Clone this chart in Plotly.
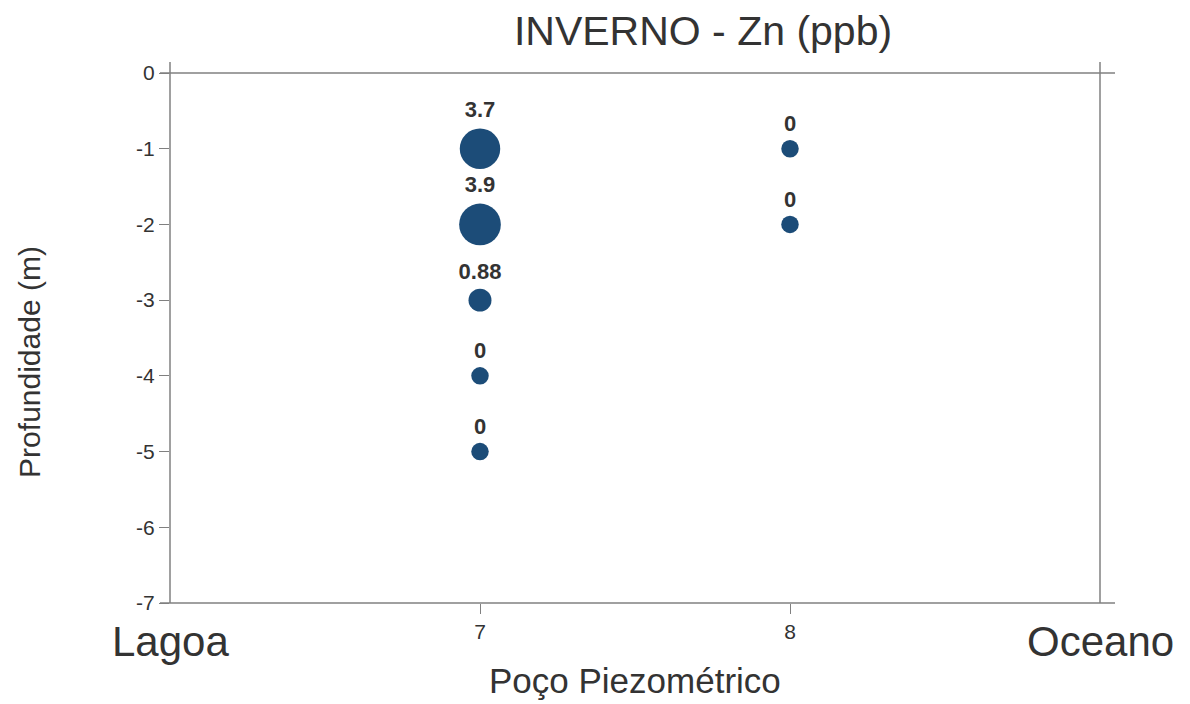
import plotly.graph_objects as go

# Data
wells = [7, 7, 7, 7, 7, 8, 8]
depths = [-1, -2, -3, -4, -5, -1, -2]
zn_values = [3.7, 3.9, 0.88, 0, 0, 0, 0]
zn_labels = ["3.7", "3.9", "0.88", "0", "0", "0", "0"]

x_ticks = [7, 8]
x_end_positions = [6, 9]
x_end_labels = ["Lagoa", "Oceano"]
y_ticks = [0, -1, -2, -3, -4, -5, -6, -7]

title_text = "INVERNO - Zn (ppb)"
x_title = "Poço Piezométrico"
y_title = "Profundidade (m)"

FONT = "Liberation Sans, Arial, Helvetica, sans-serif"
MARK = "#1c4c78"
TXT = "#333333"
LINE = "#808080"

sizes = [17.5 + 6.2 * v for v in zn_values]

fig = go.Figure()
fig.add_trace(go.Scatter(
    x=wells, y=depths, mode="markers+text",
    marker=dict(size=sizes, color=MARK, opacity=1, line=dict(width=0)),
    text=[f"<b>{t}</b>" for t in zn_labels],
    textposition="top center",
    textfont=dict(family=FONT, size=22, color=TXT),
    showlegend=False, cliponaxis=False,
))

for xv, lab in zip(x_end_positions, x_end_labels):
    fig.add_annotation(x=xv, xref="x", y=-0.072, yref="paper",
                       text=lab, showarrow=False, xanchor="center", yanchor="middle",
                       font=dict(family=FONT, size=42, color=TXT))

fig.add_annotation(x=0.5, xref="paper", y=-0.146, yref="paper",
                   text=x_title, showarrow=False, xanchor="center", yanchor="middle",
                   font=dict(family=FONT, size=35, color=TXT))
fig.add_annotation(x=-0.1505, xref="paper", y=0.455, yref="paper",
                   text=y_title, showarrow=False, textangle=-90,
                   xanchor="center", yanchor="middle",
                   font=dict(family=FONT, size=30, color=TXT))

lw = 1.5
ext_x = 10 / 930
ext_x2 = 15 / 930
ext_y = 11 / 530
shapes = [
    dict(type="line", xref="paper", yref="paper", x0=-ext_x, x1=1 + ext_x2, y0=1, y1=1),
    dict(type="line", xref="paper", yref="paper", x0=-ext_x, x1=1 + ext_x2, y0=0, y1=0),
    dict(type="line", xref="paper", yref="paper", x0=0, x1=0, y0=0, y1=1 + ext_y),
    dict(type="line", xref="paper", yref="paper", x0=1, x1=1, y0=0, y1=1 + ext_y),
]
for s in shapes:
    s["line"] = dict(color=LINE, width=lw)
    s["layer"] = "below"

fig.update_layout(
    width=1182, height=696,
    margin=dict(l=162, r=90, t=65, b=101, autoexpand=False),
    paper_bgcolor="white", plot_bgcolor="white",
    title=dict(text=title_text, x=0.588, xanchor="center", y=0.968, yanchor="middle",
               xref="container", yref="container",
               font=dict(family=FONT, size=41, color=TXT)),
    shapes=shapes,
    xaxis=dict(range=[6, 9], tickvals=x_ticks, ticktext=[str(v) for v in x_ticks],
               ticks="outside", ticklen=10, tickwidth=1.2, tickcolor=LINE,
               showgrid=False, zeroline=False, showline=False,
               tickfont=dict(family=FONT, size=21, color=TXT)),
    yaxis=dict(range=[-7, 0], tickvals=y_ticks, ticktext=[str(v) for v in y_ticks],
               ticks="outside", ticklen=10, tickwidth=1.2, tickcolor=LINE,
               showgrid=False, zeroline=False, showline=False,
               tickfont=dict(family=FONT, size=21, color=TXT)),
)

fig.write_html("out.html")
